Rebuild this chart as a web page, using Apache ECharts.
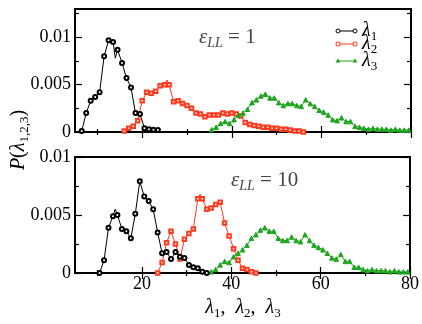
<!DOCTYPE html>
<html>
<head>
<meta charset="utf-8">
<script src="https://cdn.jsdelivr.net/npm/echarts@6/dist/echarts.min.js"></script>
<style>
  html, body { margin: 0; padding: 0; background: #fff; }
  #chart { width: 422px; height: 324px; }
</style>
</head>
<body>
<div id="chart"></div>
<script>
// ---- data ----
// top panel, eps_LL = 1
const top1X = [6.5, 7.5, 8.5, 9.5, 10.5, 11.5, 12.5, 13.5, 14.5, 15.5, 16.5, 17.5, 18.5, 19.5, 20.5, 21.5, 22.5, 23.5];
const top1Y = [0.0001, 0.0020, 0.0033, 0.0037, 0.0042, 0.0080, 0.0097, 0.0095, 0.0087, 0.0073, 0.0057, 0.0047, 0.0020, 0.0019, 0.0004, 0.0003, 0.00025, 0.0002];
const top1SpikeX = [14.0];
const top1SpikeY = [0.0078];

const top2X = [16, 17, 18, 19, 20, 21, 22, 23, 24, 25, 26, 27, 28, 29, 30, 31, 32, 33, 34, 35, 36, 37, 38, 39, 40, 41, 42, 43, 44, 45, 46, 47, 48, 49, 50, 51, 52, 53, 54, 55, 56];
const top2Y = [0.0001, 0.0004, 0.0006, 0.0012, 0.0033, 0.0042, 0.0041, 0.0043, 0.0049, 0.0050, 0.0050, 0.0032, 0.0033, 0.0030, 0.0028, 0.0025, 0.0020, 0.0019, 0.0016, 0.0018, 0.0018, 0.0018, 0.0020, 0.0019, 0.0020, 0.0019, 0.0017, 0.0010, 0.0008, 0.0007, 0.0006, 0.0005, 0.0005, 0.0004, 0.0004, 0.0003, 0.0003, 0.0002, 0.0001, 0.0001, 0.0];
const top2SpikeX = [25.6];
const top2SpikeY = [0.0055];

const top3X = [35.5, 36.5, 37.5, 38.5, 39.5, 40.5, 41.5, 42.5, 43.5, 44.5, 45.5, 46.5, 47.5, 48.5, 49.5, 50.5, 51.5, 52.5, 53.5, 54.5, 55.5, 56.5, 57.5, 58.5, 59.5, 60.5, 61.5, 62.5, 63.5, 64.5, 65.5, 66.5, 67.5, 68.5, 69.5, 70.5, 71.5, 72.5, 73.5, 74.5, 75.5, 76.5, 77.5, 78.5, 79.5];
const top3Y = [0.00025, 0.0005, 0.0009, 0.0011, 0.0009, 0.0013, 0.0018, 0.0020, 0.0024, 0.0031, 0.0034, 0.0038, 0.0040, 0.0036, 0.0036, 0.0031, 0.0028, 0.0030, 0.0030, 0.0028, 0.0027, 0.0034, 0.0030, 0.0027, 0.0023, 0.0021, 0.0018, 0.0013, 0.0012, 0.0015, 0.0011, 0.0011, 0.0006, 0.0005, 0.0004, 0.0003, 0.0004, 0.0003, 0.0003, 0.0003, 0.0002, 0.0003, 0.0002, 0.0002, 0.0002];

// bottom panel, eps_LL = 10
const bot1X = [10.5, 11.5, 12.5, 13.5, 14.5, 15.5, 16.5, 17.5, 18.5, 19.5, 20.5, 21.5, 22.5, 23.5, 24.5, 25.5, 26.5, 27.5, 28.5, 29.5, 30.5, 31.5, 32.5, 33.5, 34.5];
const bot1Y = [0.0, 0.0011, 0.0039, 0.0049, 0.0050, 0.0038, 0.0036, 0.0030, 0.0051, 0.0079, 0.0066, 0.0062, 0.0055, 0.0035, 0.0017, 0.0018, 0.0012, 0.0018, 0.0014, 0.0013, 0.0007, 0.0005, 0.0004, 0.0001, 0.0];
const bot1SpikeX = [14.0];
const bot1SpikeY = [0.0055];

const bot2X = [23.5, 24.5, 25.5, 26.5, 27.5, 28.5, 29.5, 30.5, 31.5, 32.5, 33.5, 34.5, 35.5, 36.5, 37.5, 38.5, 39.5, 40.5, 41.5, 42.5, 43.5, 44.5, 45.5];
const bot2Y = [0.0, 0.0009, 0.0026, 0.0036, 0.0025, 0.0012, 0.0029, 0.0034, 0.0038, 0.0064, 0.0064, 0.0055, 0.0056, 0.0059, 0.0061, 0.0043, 0.0032, 0.0021, 0.0011, 0.0004, 0.0003, 0.0001, 0.0];
const bot2SpikeX = [33.0];
const bot2SpikeY = [0.0068];

const bot3X = top3X;
const bot3Y = [0.0001, 0.0003, 0.0007, 0.0010, 0.0009, 0.0014, 0.0017, 0.0020, 0.0024, 0.0030, 0.0033, 0.0037, 0.0039, 0.0036, 0.0036, 0.0030, 0.0028, 0.0028, 0.0031, 0.0028, 0.0027, 0.0033, 0.0028, 0.0024, 0.0022, 0.0020, 0.0017, 0.0013, 0.0012, 0.0016, 0.0010, 0.0010, 0.0005, 0.0005, 0.0003, 0.0002, 0.0003, 0.0002, 0.0002, 0.0002, 0.0001, 0.0002, 0.0001, 0.0001, 0.0001];

const xMajor = [20, 40, 60, 80];
const xMinor = [10, 30, 50, 70];
const yTopLabels = [0, 0.005, 0.01];
const yTopMinor = [0.0025, 0.0075, 0.0125];
const yBotLabels = [0, 0.005, 0.01];
const yBotMinor = [0.0025, 0.0075];

const RED = '#ff3b1f';
const GREEN = '#1ea51e';
const SERIF = 'Liberation Serif';

// merge marker points and unmarked spike points into one line
function pts(xs, ys, sx, sy) {
  let out = xs.map((x, i) => ({ value: [x, ys[i]] }));
  (sx || []).forEach((x, i) => out.push({ value: [x, sy[i]], symbol: 'none' }));
  out.sort((a, b) => a.value[0] - b.value[0]);
  return out;
}

function xAxes(g, labels) {
  let base = {
    gridIndex: g, type: 'value', min: 5, max: 80,
    axisLine: { show: false }, splitLine: { show: false }
  };
  let mk = (pos, vals, len, lab) => Object.assign({}, base, {
    position: pos,
    axisTick: { inside: true, length: len, customValues: vals, lineStyle: { color: '#000', width: 1.2 } },
    axisLabel: { show: lab, customValues: vals, color: '#000', fontFamily: SERIF, fontSize: 18, margin: 2 }
  });
  return [mk('bottom', xMajor, 6, labels), mk('bottom', xMinor, 3, false),
          mk('top', xMajor, 6, false), mk('top', xMinor, 3, false)];
}

function yAxes(g, max, major, minor) {
  let base = {
    gridIndex: g, type: 'value', min: 0, max: max,
    axisLine: { show: false }, splitLine: { show: false }
  };
  let mk = (pos, vals, len, lab) => Object.assign({}, base, {
    position: pos,
    axisTick: { inside: true, length: len, customValues: vals, lineStyle: { color: '#000', width: 1.2 } },
    axisLabel: {
      show: lab, customValues: vals, color: '#000', fontFamily: SERIF, fontSize: 18, margin: 4,
      formatter: v => v === 0 ? '0' : String(+v.toFixed(4))
    }
  });
  return [mk('left', major, 7, true), mk('left', minor, 4, false),
          mk('right', major, 7, false), mk('right', minor, 4, false)];
}

function lineSeries(xi, yi, data, color, symbol, size) {
  return {
    type: 'line', xAxisIndex: xi, yAxisIndex: yi, data: data,
    symbol: symbol, symbolSize: size, showSymbol: true,
    lineStyle: { color: color, width: 1 },
    itemStyle: { color: color, borderColor: color, borderWidth: 1 },
    emphasis: { disabled: true }, z: color === '#000' ? 3 : 2
  };
}

const chart = echarts.init(document.getElementById('chart'));

const sub = { fontFamily: SERIF, fontSize: 13, verticalAlign: 'bottom', lineHeight: 12, fill: '#000' };
const lam = { fontFamily: SERIF, fontSize: 20, fontStyle: 'italic', lineHeight: 24, fill: '#000' };
const nrm = { fontFamily: SERIF, fontSize: 20, lineHeight: 24, fill: '#000' };

function legendRow(y, color, kind, label) {
  let els = [{ type: 'line', shape: { x1: 338, y1: y, x2: 355, y2: y }, style: { stroke: color, lineWidth: 1 } }];
  [338, 355].forEach(cx => {
    if (kind === 'circle') els.push({ type: 'circle', shape: { cx: cx, cy: y, r: 2 }, style: { fill: '#fff', stroke: color, lineWidth: 1 } });
    if (kind === 'rect') els.push({ type: 'rect', shape: { x: cx - 1.8, y: y - 1.8, width: 3.6, height: 3.6 }, style: { fill: '#fff', stroke: color, lineWidth: 1 } });
    if (kind === 'tri') els.push({ type: 'polygon', shape: { points: [[cx, y - 2.7], [cx - 2.4, y + 1.6], [cx + 2.4, y + 1.6]] }, style: { fill: color } });
  });
  els.push({
    type: 'text', x: 362, y: y,
    style: { text: '{l|λ}{s|' + label + '}', rich: { l: lam, s: sub }, verticalAlign: 'middle', align: 'left' }
  });
  return els;
}

const epsStyle = {
  e: { fontFamily: SERIF, fontSize: 21, fontStyle: 'italic', lineHeight: 26, fill: '#444' },
  s: { fontFamily: SERIF, fontSize: 14, fontStyle: 'italic', verticalAlign: 'bottom', lineHeight: 14, fill: '#444' },
  n: { fontFamily: SERIF, fontSize: 21, lineHeight: 26, fill: '#444' }
};

const option = {
  animation: false,
  backgroundColor: '#fff',
  grid: [
    { left: 75, top: 9, width: 336, height: 123, show: true, borderColor: '#000', borderWidth: 2, backgroundColor: 'transparent' },
    { left: 75, top: 157, width: 336, height: 116, show: true, borderColor: '#000', borderWidth: 2, backgroundColor: 'transparent' }
  ],
  xAxis: xAxes(0, false).concat(xAxes(1, true)),
  yAxis: yAxes(0, 0.013, yTopLabels, yTopMinor).concat(yAxes(1, 0.01, yBotLabels, yBotMinor)),
  series: [
    lineSeries(0, 0, pts(top2X, top2Y, top2SpikeX, top2SpikeY), RED, 'emptyRect', 3.5),
    lineSeries(0, 0, pts(top3X, top3Y), GREEN, 'triangle', 4.5),
    lineSeries(0, 0, pts(top1X, top1Y, top1SpikeX, top1SpikeY), '#000', 'emptyCircle', 4),
    lineSeries(4, 4, pts(bot2X, bot2Y, bot2SpikeX, bot2SpikeY), RED, 'emptyRect', 3.5),
    lineSeries(4, 4, pts(bot3X, bot3Y), GREEN, 'triangle', 4.5),
    lineSeries(4, 4, pts(bot1X, bot1Y, bot1SpikeX, bot1SpikeY), '#000', 'emptyCircle', 4)
  ],
  graphic: [].concat(
    legendRow(31, '#000', 'circle', '1'),
    legendRow(44, RED, 'rect', '2'),
    legendRow(61, GREEN, 'tri', '3'),
    [
      { type: 'text', x: 199, y: 37, style: { text: '{e|ε}{s|LL}{n| = 1}', rich: epsStyle, verticalAlign: 'middle', align: 'left' } },
      { type: 'text', x: 231, y: 180, style: { text: '{e|ε}{s|LL}{n| = 10}', rich: epsStyle, verticalAlign: 'middle', align: 'left' } },
      { type: 'text', x: 243, y: 308, style: { text: '{l|λ}{s|1}{n|,  }{l|λ}{s|2}{n|,  }{l|λ}{s|3}', rich: { l: lam, s: sub, n: nrm }, verticalAlign: 'middle', align: 'center' } },
      { type: 'text', x: 19, y: 140, rotation: Math.PI / 2, style: { text: '{p|P}{n|(}{l|λ}{s|1,2,3}{n|)}', rich: { p: lam, l: lam, s: sub, n: nrm }, verticalAlign: 'middle', align: 'center' } }
    ]
  )
};

chart.setOption(option);
</script>
</body>
</html>
